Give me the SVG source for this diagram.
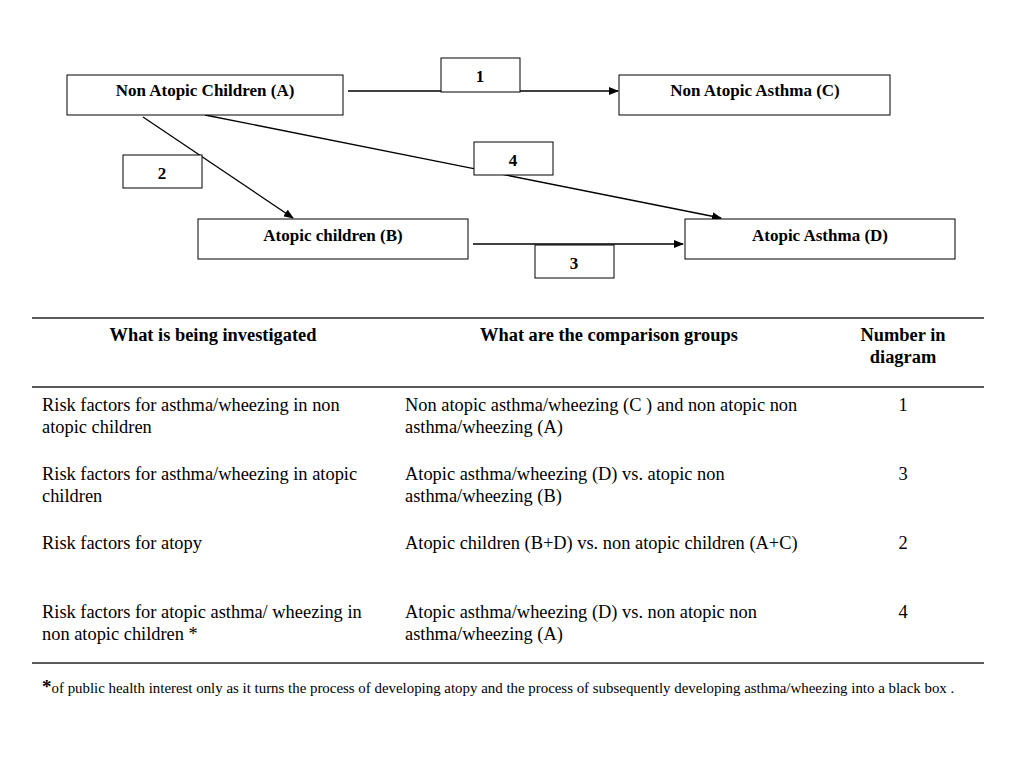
<svg xmlns="http://www.w3.org/2000/svg" width="1024" height="768" viewBox="0 0 1024 768">
<style>
.box{fill:#fff;stroke:#000;stroke-width:1}
.lbl{fill:#fff;stroke:#000;stroke-width:1}
.nt{font-family:"Liberation Serif",serif;font-size:17px;font-weight:bold;text-anchor:middle}
.ln{stroke:#000;stroke-width:1.3;fill:none}
.th{font-family:"Liberation Serif",serif;font-size:18.4px;font-weight:bold;text-anchor:middle}
.td{font-family:"Liberation Serif",serif;font-size:18.4px}
.tc{font-family:"Liberation Serif",serif;font-size:18.4px;text-anchor:middle}
.rule{stroke:#222;stroke-width:1.6}
</style>
<defs>
<marker id="arr" markerWidth="10" markerHeight="8" refX="9" refY="4" orient="auto" markerUnits="userSpaceOnUse">
<path d="M0,0 L10,4 L0,8 z" fill="#000"/>
</marker>
</defs>
<rect width="1024" height="768" fill="#fff"/>
<g id="connectors">
<line class="ln" x1="348" y1="91" x2="618" y2="91" marker-end="url(#arr)"/>
<line class="ln" x1="143" y1="117" x2="293" y2="218" marker-end="url(#arr)"/>
<line class="ln" x1="205" y1="115" x2="721" y2="218" marker-end="url(#arr)"/>
<line class="ln" x1="473" y1="244" x2="683" y2="244" marker-end="url(#arr)"/>
</g>
<g id="nodeA"><rect class="box" x="67" y="75" width="276" height="40"/><text class="nt" x="205" y="96">Non Atopic Children (A)</text></g>
<g id="nodeC"><rect class="box" x="619" y="75" width="271" height="40"/><text class="nt" x="755" y="96">Non Atopic Asthma (C)</text></g>
<g id="nodeB"><rect class="box" x="198" y="219" width="270" height="40"/><text class="nt" x="333" y="241">Atopic children (B)</text></g>
<g id="nodeD"><rect class="box" x="685" y="219" width="270" height="40"/><text class="nt" x="820" y="241">Atopic Asthma (D)</text></g>
<g id="label1"><rect class="lbl" x="441" y="58" width="79" height="34"/><text class="nt" x="480" y="82">1</text></g>
<g id="label2"><rect class="lbl" x="123" y="155" width="79" height="33"/><text class="nt" x="162" y="179">2</text></g>
<g id="label4"><rect class="lbl" x="474" y="142" width="79" height="33"/><text class="nt" x="513" y="166">4</text></g>
<g id="label3"><rect class="lbl" x="535" y="245" width="79" height="33"/><text class="nt" x="574" y="269">3</text></g>
<g id="table">
<line class="rule" x1="32" y1="318" x2="984" y2="318"/>
<line class="rule" x1="32" y1="387" x2="984" y2="387"/>
<line class="rule" x1="32" y1="663" x2="984" y2="663"/>
<text class="th" x="213" y="341">What is being investigated</text>
<text class="th" x="609" y="341">What are the comparison groups</text>
<text class="th" x="903" y="341">Number in</text>
<text class="th" x="903" y="363">diagram</text>
<text class="td" x="42" y="411">Risk factors for asthma/wheezing in non</text>
<text class="td" x="42" y="433">atopic children</text>
<text class="td" x="405" y="411">Non atopic asthma/wheezing (C ) and non atopic non</text>
<text class="td" x="405" y="433">asthma/wheezing  (A)</text>
<text class="tc" x="903" y="411">1</text>
<text class="td" x="42" y="480">Risk factors for asthma/wheezing in atopic</text>
<text class="td" x="42" y="502">children</text>
<text class="td" x="405" y="480">Atopic asthma/wheezing (D) vs. atopic non</text>
<text class="td" x="405" y="502">asthma/wheezing  (B)</text>
<text class="tc" x="903" y="480">3</text>
<text class="td" x="42" y="549">Risk factors for atopy</text>
<text class="td" x="405" y="549">Atopic children (B+D) vs. non atopic children  (A+C)</text>
<text class="tc" x="903" y="549">2</text>
<text class="td" x="42" y="618">Risk factors for atopic asthma/ wheezing in</text>
<text class="td" x="42" y="640">non atopic children *</text>
<text class="td" x="405" y="618">Atopic asthma/wheezing  (D) vs. non atopic non</text>
<text class="td" x="405" y="640">asthma/wheezing (A)</text>
<text class="tc" x="903" y="618">4</text>
</g>
<g id="footnote">
<text x="42" y="693" font-family="&quot;Liberation Serif&quot;,serif" font-size="14.9px"><tspan font-weight="bold" font-size="19px">*</tspan>of public health interest only as it turns the process of developing atopy and the process of subsequently developing asthma/wheezing into a black box .</text>
</g>
</svg>
